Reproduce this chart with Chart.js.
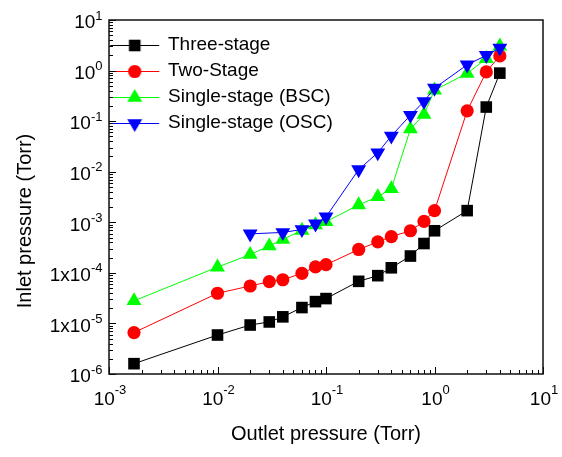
<!DOCTYPE html>
<html><head><meta charset="utf-8">
<script src="https://cdn.jsdelivr.net/npm/chart.js@4/dist/chart.umd.min.js"></script>
<style>html,body{margin:0;padding:0;background:#fff}canvas{display:block}</style>
</head><body>
<canvas id="c" width="562" height="457"></canvas>
<script>
// ---- data ----
const outletPressure = [0.0017, 0.01, 0.02, 0.03, 0.04, 0.06, 0.08, 0.1, 0.2, 0.3, 0.4, 0.6, 0.8, 1, 2, 3, 4];
const threeStage = [1.6e-6, 5.9e-6, 9.3e-6, 1.07e-5, 1.35e-5, 2.06e-5, 2.7e-5, 3.1e-5, 6.8e-5, 8.8e-5, 1.26e-4, 2.15e-4, 3.8e-4, 6.8e-4, 1.7e-3, 0.19, 0.89];
const twoStage = [6.6e-6, 3.95e-5, 5.5e-5, 6.7e-5, 7.3e-5, 9.8e-5, 1.31e-4, 1.45e-4, 2.9e-4, 4.1e-4, 5.2e-4, 6.8e-4, 1.04e-3, 1.7e-3, 0.16, 0.94, 1.95];
const singleBSC = [2.8e-5, 1.3e-4, 2.3e-4, 3.4e-4, 4.6e-4, 6.9e-4, 8.9e-4, 1.03e-3, 2.2e-3, 3.2e-3, 4.6e-3, 0.07, 0.135, 0.41, 0.88, 1.72, 3.05];
const outletPressureOSC = [0.02, 0.04, 0.06, 0.08, 0.1, 0.2, 0.3, 0.4, 0.6, 0.8, 1, 2, 3, 4];
const singleOSC = [5.9e-4, 6.3e-4, 7.2e-4, 9.3e-4, 1.28e-3, 0.011, 0.0237, 0.051, 0.131, 0.245, 0.45, 1.3, 2.0, 2.8];
const seriesNames = ['Three-stage', 'Two-Stage', 'Single-stage (BSC)', 'Single-stage (OSC)'];
const xTickValues = [1e-3, 1e-2, 1e-1, 1e0, 1e1];
const xTickLabels = ['10^-3', '10^-2', '10^-1', '10^0', '10^1'];
const yTickValues = [1e1, 1e0, 1e-1, 1e-2, 1e-3, 1e-4, 1e-5, 1e-6];
const yTickLabels = ['10^1', '10^0', '10^-1', '10^-2', '10^-3', '1x10^-4', '1x10^-5', '10^-6'];
const xTitle = 'Outlet pressure (Torr)';
const yTitle = 'Inlet pressure (Torr)';

const FONT = '"Liberation Sans", Arial, Helvetica, sans-serif';
const styles = [
  {color: '#000000', pointStyle: 'rect', radius: 8.2, rotation: 0},
  {color: '#ff0000', pointStyle: 'circle', radius: 6.6, rotation: 0},
  {color: '#00ff00', pointStyle: 'triangle', radius: 8.6, rotation: 0},
  {color: '#0000ff', pointStyle: 'triangle', radius: 8.6, rotation: 180}
];

function pts(xs, ys) { return xs.map((v, i) => ({x: v, y: ys[i]})); }

// legend icon: short line with the marker, as in the reference
function makeIcon(st) {
  const cv = document.createElement('canvas');
  cv.width = 70; cv.height = 20;
  const c = cv.getContext('2d');
  c.strokeStyle = st.color; c.lineWidth = 1;
  c.beginPath(); c.moveTo(8, 10.5); c.lineTo(57, 10.5); c.stroke();
  c.fillStyle = st.color; c.strokeStyle = st.color;
  Chart.helpers.drawPoint(c, {pointStyle: st.pointStyle, radius: st.radius, rotation: st.rotation, borderWidth: 0}, 32.5, 10.5);
  return cv;
}
const legendIcons = styles.map(makeIcon);

function decadeTicks(scale) {
  const out = [];
  const lo = Math.round(Math.log10(scale.min)), hi = Math.round(Math.log10(scale.max));
  for (let e = lo; e <= hi; e++) {
    for (let m = 1; m <= 9; m++) {
      const v = m * Math.pow(10, e);
      if (v > scale.max * 1.000001) break;
      out.push({value: v, major: m === 1});
    }
  }
  scale.ticks = out;
}

function drawPowLabel(ctx, label, px, py, mode) {
  const parts = label.split('^');
  ctx.font = '19px ' + FONT;
  const wb = ctx.measureText(parts[0]).width;
  ctx.font = '13px ' + FONT;
  const we = ctx.measureText(parts[1]).width;
  let left, baseY, expY;
  if (mode === 'x') {
    left = px - (wb + we) / 2 + 1;
    baseY = py + 30.5; expY = py + 20;
  } else {
    left = px - 6.5 - (wb + we);
    baseY = py + 8.3; expY = py - 0.5;
  }
  ctx.textAlign = 'left'; ctx.textBaseline = 'alphabetic';
  ctx.font = '19px ' + FONT;
  ctx.fillText(parts[0], left, baseY);
  ctx.font = '13px ' + FONT;
  ctx.fillText(parts[1], left + wb, expY);
}

const decor = {
  id: 'decor',
  afterDraw(chart) {
    const {ctx, chartArea: a, scales: {x, y}} = chart;
    ctx.save();
    ctx.fillStyle = '#000';
    ctx.strokeStyle = '#000';
    ctx.lineWidth = 1;
    ctx.beginPath();
    x.ticks.forEach(t => {
      const px = Math.round(x.getPixelForValue(t.value)) + 0.5;
      const len = t.major ? 7 : 4;
      ctx.moveTo(px, a.bottom); ctx.lineTo(px, a.bottom - len);
    });
    y.ticks.forEach(t => {
      const py = Math.round(y.getPixelForValue(t.value)) + 0.5;
      const len = t.major ? 7 : 4;
      ctx.moveTo(a.left, py); ctx.lineTo(a.left + len, py);
    });
    ctx.stroke();
    ctx.lineWidth = 1.5;
    ctx.strokeStyle = '#111';
    ctx.strokeRect(a.left, a.top, a.right - a.left, a.bottom - a.top);
    xTickValues.forEach((v, i) => drawPowLabel(ctx, xTickLabels[i], x.getPixelForValue(v), a.bottom, 'x'));
    yTickValues.forEach((v, i) => drawPowLabel(ctx, yTickLabels[i], a.left, y.getPixelForValue(v), 'y'));
    ctx.font = '20px ' + FONT;
    ctx.textAlign = 'center'; ctx.textBaseline = 'alphabetic';
    ctx.fillText(xTitle, (a.left + a.right) / 2, a.bottom + 66);
    ctx.translate(31, (a.top + a.bottom) / 2 + 24);
    ctx.rotate(-Math.PI / 2);
    ctx.fillText(yTitle, 0, 0);
    ctx.restore();
  }
};

const seriesX = [outletPressure, outletPressure, outletPressure, outletPressureOSC];
const seriesY = [threeStage, twoStage, singleBSC, singleOSC];

const datasets = seriesNames.map((name, i) => ({
  label: name,
  data: pts(seriesX[i], seriesY[i]),
  showLine: true,
  borderColor: styles[i].color,
  backgroundColor: styles[i].color,
  borderWidth: 1,
  pointStyle: styles[i].pointStyle,
  pointRadius: styles[i].radius,
  pointHoverRadius: styles[i].radius,
  pointRotation: styles[i].rotation,
  pointBorderWidth: 0,
  order: 3 - i,
  clip: false
}));

new Chart(document.getElementById('c'), {
  type: 'scatter',
  data: {datasets},
  options: {
    responsive: false,
    animation: false,
    layout: {padding: {left: 101, top: 20, right: 19, bottom: 75}},
    scales: {
      x: {
        type: 'logarithmic', min: 1e-3, max: 10,
        afterBuildTicks: decadeTicks,
        grid: {display: false}, border: {display: false},
        ticks: {display: false}
      },
      y: {
        type: 'logarithmic', min: 1e-6, max: 10,
        afterBuildTicks: decadeTicks,
        grid: {display: false}, border: {display: false},
        ticks: {display: false}
      }
    },
    plugins: {
      tooltip: {enabled: false},
      legend: {
        position: 'chartArea',
        align: 'start',
        title: {display: true, text: '', font: {size: 28.5, lineHeight: 1}, padding: 0},
        labels: {
          usePointStyle: true,
          pointStyleWidth: 42.5,
          padding: 7,
          color: '#000',
          font: {family: FONT, size: 19},
          generateLabels(chart) {
            return chart.data.datasets.map((ds, i) => ({
              text: ds.label, pointStyle: legendIcons[i], fillStyle: ds.backgroundColor,
              strokeStyle: ds.borderColor, lineWidth: 0, hidden: false, datasetIndex: i, fontColor: '#000'
            }));
          }
        }
      }
    }
  },
  plugins: [decor]
});
</script>
</body></html>
